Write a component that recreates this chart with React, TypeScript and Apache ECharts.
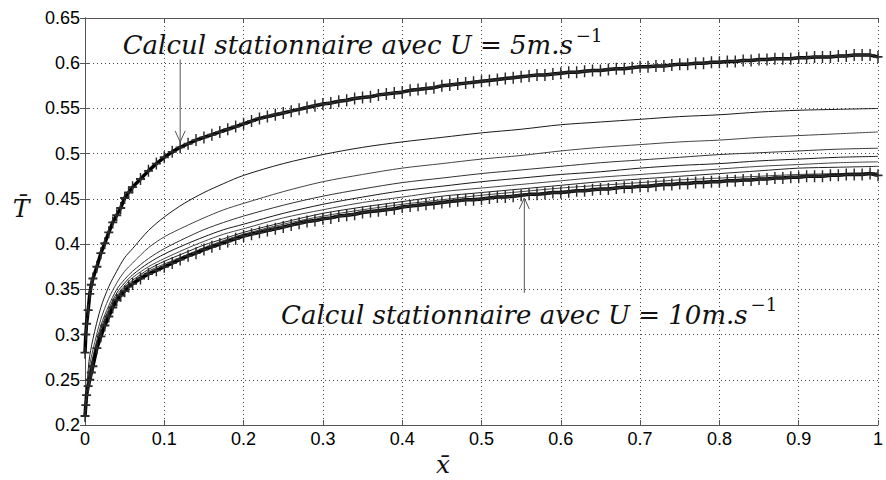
import React, { useEffect, useRef } from "react";
import * as echarts from "echarts";

// x positions of the computed points (mesh refined near the leading edge)
const xsDense = [
  0, 0.001, 0.002, 0.004, 0.006, 0.008, 0.01, 0.015, 0.02, 0.025, 0.03, 0.035, 0.04, 0.045, 0.05, 0.055, 0.06, 0.07, 0.08, 0.09,
  0.1, 0.11, 0.12, 0.13, 0.14, 0.15, 0.16, 0.17, 0.18, 0.19,
  0.2, 0.21, 0.22, 0.23, 0.24, 0.25, 0.26, 0.27, 0.28, 0.29,
  0.3, 0.31, 0.32, 0.33, 0.34, 0.35, 0.36, 0.37, 0.38, 0.39,
  0.4, 0.41, 0.42, 0.43, 0.44, 0.45, 0.46, 0.47, 0.48, 0.49,
  0.5, 0.51, 0.52, 0.53, 0.54, 0.55, 0.56, 0.57, 0.58, 0.59,
  0.6, 0.61, 0.62, 0.63, 0.64, 0.65, 0.66, 0.67, 0.68, 0.69,
  0.7, 0.71, 0.72, 0.73, 0.74, 0.75, 0.76, 0.77, 0.78, 0.79,
  0.8, 0.81, 0.82, 0.83, 0.84, 0.85, 0.86, 0.87, 0.88, 0.89,
  0.9, 0.91, 0.92, 0.93, 0.94, 0.95, 0.96, 0.97, 0.98, 0.99, 1.0,
];

// Steady computation, U = 5 m/s (upper curve with + markers)
const steadyU5 = [
  0.28, 0.3, 0.312, 0.327, 0.345, 0.355, 0.362, 0.375, 0.39, 0.401, 0.413, 0.424, 0.432, 0.44, 0.451, 0.457, 0.463, 0.472, 0.481, 0.489,
  0.496, 0.502, 0.507, 0.511, 0.515, 0.518, 0.521, 0.524, 0.527, 0.53,
  0.533, 0.536, 0.539, 0.541, 0.543, 0.545, 0.547, 0.549, 0.551, 0.553,
  0.555, 0.556, 0.558, 0.559, 0.561, 0.562, 0.563, 0.565, 0.566, 0.567,
  0.568, 0.57, 0.571, 0.572, 0.573, 0.575, 0.576, 0.577, 0.578, 0.579,
  0.58, 0.581, 0.582, 0.583, 0.584, 0.585, 0.586, 0.587, 0.587, 0.588,
  0.589, 0.59, 0.59, 0.591, 0.592, 0.592, 0.593, 0.594, 0.594, 0.595,
  0.596, 0.596, 0.597, 0.597, 0.598, 0.599, 0.599, 0.6, 0.6, 0.601,
  0.601, 0.602, 0.602, 0.603, 0.603, 0.604, 0.604, 0.605, 0.605, 0.605,
  0.606, 0.606, 0.607, 0.607, 0.607, 0.608, 0.608, 0.609, 0.609, 0.609, 0.607,
];

// Steady computation, U = 10 m/s (lower curve with + markers)
const steadyU10 = [
  0.21, 0.222, 0.233, 0.243, 0.25, 0.258, 0.265, 0.285, 0.298, 0.31, 0.32, 0.33, 0.338, 0.343, 0.348, 0.353, 0.356, 0.362, 0.367, 0.371,
  0.375, 0.379, 0.383, 0.387, 0.39, 0.394, 0.397, 0.4, 0.403, 0.406,
  0.409, 0.411, 0.413, 0.415, 0.417, 0.419, 0.421, 0.423, 0.425, 0.426,
  0.428, 0.429, 0.431, 0.432, 0.433, 0.435, 0.436, 0.437, 0.438, 0.439,
  0.441, 0.442, 0.443, 0.444, 0.445, 0.446, 0.447, 0.448, 0.449, 0.449,
  0.45, 0.451, 0.452, 0.452, 0.453, 0.454, 0.455, 0.455, 0.456, 0.457,
  0.457, 0.458, 0.459, 0.459, 0.46, 0.461, 0.461, 0.462, 0.463, 0.463,
  0.464, 0.464, 0.465, 0.466, 0.466, 0.467, 0.467, 0.468, 0.468, 0.469,
  0.469, 0.47, 0.47, 0.471, 0.471, 0.472, 0.472, 0.473, 0.473, 0.474,
  0.474, 0.475, 0.475, 0.475, 0.476, 0.476, 0.477, 0.477, 0.477, 0.478, 0.476,
];

// x positions of the transient profiles
const xsThin = [0, 0.005, 0.01, 0.02, 0.03, 0.04, 0.05, 0.06, 0.08, 0.1, 0.125, 0.15, 0.175, 0.2, 0.25, 0.3, 0.35, 0.4, 0.45, 0.5, 0.55, 0.6, 0.65, 0.7, 0.75, 0.8, 0.85, 0.9, 0.95, 1.0];

const profile1 = [0.21, 0.27, 0.295, 0.33, 0.353, 0.37, 0.385, 0.395, 0.415, 0.43, 0.445, 0.457, 0.467, 0.476, 0.489, 0.499, 0.507, 0.513, 0.518, 0.523, 0.527, 0.532, 0.535, 0.538, 0.541, 0.543, 0.546, 0.548, 0.549, 0.55];
const profile2 = [0.21, 0.261, 0.283, 0.317, 0.34, 0.357, 0.37, 0.379, 0.396, 0.408, 0.419, 0.429, 0.438, 0.445, 0.458, 0.469, 0.477, 0.484, 0.489, 0.494, 0.498, 0.503, 0.507, 0.51, 0.513, 0.515, 0.518, 0.52, 0.522, 0.524];
const profile3 = [0.21, 0.255, 0.276, 0.31, 0.332, 0.35, 0.361, 0.37, 0.384, 0.395, 0.406, 0.416, 0.424, 0.431, 0.443, 0.453, 0.461, 0.468, 0.473, 0.478, 0.482, 0.486, 0.49, 0.493, 0.496, 0.499, 0.501, 0.503, 0.505, 0.506];
const profile4 = [0.21, 0.253, 0.273, 0.306, 0.328, 0.346, 0.357, 0.366, 0.379, 0.389, 0.399, 0.408, 0.416, 0.422, 0.434, 0.444, 0.452, 0.459, 0.464, 0.469, 0.473, 0.477, 0.48, 0.484, 0.487, 0.489, 0.492, 0.494, 0.496, 0.497];
const profile5 = [0.21, 0.251, 0.27, 0.303, 0.326, 0.343, 0.354, 0.363, 0.375, 0.384, 0.394, 0.403, 0.411, 0.417, 0.429, 0.438, 0.446, 0.452, 0.458, 0.462, 0.466, 0.47, 0.474, 0.477, 0.48, 0.483, 0.486, 0.488, 0.49, 0.491];
const profile6 = [0.21, 0.249, 0.268, 0.301, 0.323, 0.341, 0.352, 0.36, 0.372, 0.381, 0.39, 0.399, 0.406, 0.413, 0.424, 0.434, 0.441, 0.447, 0.453, 0.457, 0.461, 0.465, 0.469, 0.472, 0.475, 0.478, 0.481, 0.484, 0.485, 0.486];
const profile7 = [0.21, 0.248, 0.267, 0.3, 0.322, 0.34, 0.35, 0.358, 0.37, 0.378, 0.387, 0.396, 0.404, 0.411, 0.422, 0.431, 0.438, 0.444, 0.449, 0.454, 0.458, 0.462, 0.465, 0.468, 0.471, 0.473, 0.475, 0.477, 0.478, 0.479];

const profiles = [profile1, profile2, profile3, profile4, profile5, profile6, profile7];
const profileColors = ["#1a1a1a", "#444444", "#333333", "#1a1a1a", "#444444", "#222222", "#444444"];

const X_MIN = 0, X_MAX = 1, X_STEP = 0.1;
const Y_MIN = 0.2, Y_MAX = 0.65, Y_STEP = 0.05;

const label5 = { main: "Calcul stationnaire avec U = 5m.s", sup: "−1" };
const label10 = { main: "Calcul stationnaire avec U = 10m.s", sup: "−1" };
// annotation anchors in data coordinates
const label5At = [0.35, 0.623];
const label10At = [0.56, 0.325];
const arrow5 = { from: [0.12, 0.604], to: [0.12, 0.513] };
const arrow10 = { from: [0.554, 0.346], to: [0.554, 0.451] };

const fmt = (v: number) => String(+v.toFixed(2));
const zip = (xs: number[], ys: number[]) => xs.map((x, i) => [x, ys[i]]);

const PLUS = "path://M4.2,0H5.8V4.2H10V5.8H5.8V10H4.2V5.8H0V4.2H4.2Z";

export default function App() {
  const ref = useRef<HTMLDivElement>(null);
  useEffect(() => {
    if (!ref.current) return;
    const chart = echarts.init(ref.current, undefined, { renderer: "svg" });
    const axisColor = "#555";
    const tickFont = { fontFamily: "Liberation Sans, Arial, sans-serif", fontSize: 18, color: "#000" };
    const series: any[] = profiles.map((p, i) => ({
      type: "line",
      data: zip(xsThin, p),
      smooth: 0.3,
      showSymbol: false,
      symbol: "none",
      lineStyle: { color: profileColors[i], width: 1 },
      z: 2,
    }));
    [steadyU5, steadyU10].forEach((s) => {
      series.push({
        type: "line",
        data: zip(xsDense, s),
        symbol: PLUS,
        symbolSize: [9, 12],
        showAllSymbol: true,
        itemStyle: { color: "#2a2a2a" },
        lineStyle: { color: "#000", width: 3.5 },
        z: 3,
      });
    });
    chart.setOption({
      animation: false,
      backgroundColor: "#fff",
      grid: { left: 85, right: 2, top: 18, bottom: 55, containLabel: false },
      xAxis: [
        {
          type: "value", min: X_MIN, max: X_MAX, interval: X_STEP,
          axisLine: { lineStyle: { color: axisColor, width: 1 } },
          axisTick: { inside: true, length: 5, lineStyle: { color: axisColor } },
          axisLabel: { ...tickFont, margin: 5, formatter: fmt, showMaxLabel: true, showMinLabel: true },
          splitLine: { show: true, lineStyle: { color: "#444", type: [1, 3], width: 1 } },
        },
        {
          type: "value", position: "top", min: X_MIN, max: X_MAX, interval: X_STEP,
          axisLine: { show: true, lineStyle: { color: axisColor, width: 1 } },
          axisTick: { show: true, inside: true, length: 5, lineStyle: { color: axisColor } },
          axisLabel: { show: false }, splitLine: { show: false },
        },
      ],
      yAxis: [
        {
          type: "value", min: Y_MIN, max: Y_MAX, interval: Y_STEP,
          axisLine: { show: true, lineStyle: { color: axisColor, width: 1 } },
          axisTick: { show: true, inside: true, length: 5, lineStyle: { color: axisColor } },
          axisLabel: { ...tickFont, margin: 5, formatter: fmt, showMaxLabel: true, showMinLabel: true },
          splitLine: { show: true, lineStyle: { color: "#444", type: [1, 3], width: 1 } },
        },
        {
          type: "value", position: "right", min: Y_MIN, max: Y_MAX, interval: Y_STEP,
          axisLine: { show: true, lineStyle: { color: axisColor, width: 1 } },
          axisTick: { show: true, inside: true, length: 5, lineStyle: { color: axisColor } },
          axisLabel: { show: false }, splitLine: { show: false },
        },
      ],
      series,
    });

    const px = (p: number[]) => chart.convertToPixel({ xAxisIndex: 0, yAxisIndex: 0 }, p) as number[];
    const serif = "DejaVu Serif, serif";
    const rich = {
      m: { fontFamily: serif, fontStyle: "italic", fontSize: 26, fill: "#111", lineHeight: 32, verticalAlign: "bottom" },
      s: { fontFamily: serif, fontStyle: "normal", fontSize: 18, fill: "#111", lineHeight: 32, verticalAlign: "top", padding: [0, 0, 0, 3] },
    };
    const arrow = (a: { from: number[]; to: number[] }) => {
      const f = px(a.from), t = px(a.to);
      const dir = t[1] > f[1] ? -1 : 1;
      return [
        { type: "line", shape: { x1: f[0], y1: f[1], x2: t[0], y2: t[1] }, style: { stroke: "#555", lineWidth: 1 }, z: 10 },
        {
          type: "polyline",
          shape: { points: [[t[0] - 5, t[1] + dir * 11], [t[0], t[1]], [t[0] + 5, t[1] + dir * 11]] },
          style: { stroke: "#555", lineWidth: 1, fill: null }, z: 10,
        },
      ];
    };
    const textEl = (lab: { main: string; sup: string }, at: number[]) => {
      const p = px(at);
      return {
        type: "text", x: p[0], y: p[1], z: 11,
        style: { text: `{m|${lab.main}}{s|${lab.sup}}`, rich, align: "center", verticalAlign: "middle" },
      };
    };
    chart.setOption({
      graphic: [
        ...arrow(arrow5),
        ...arrow(arrow10),
        textEl(label5, label5At),
        textEl(label10, label10At),
        { type: "text", x: 21, y: 208, style: { text: "T\u0304", fontFamily: serif, fontStyle: "italic", fontSize: 25, fill: "#111", align: "center", verticalAlign: "middle" } },
        { type: "text", x: 443, y: 464, style: { text: "x\u0304", fontFamily: serif, fontStyle: "italic", fontSize: 25, fill: "#111", align: "center", verticalAlign: "middle" } },
      ],
    });
    return () => chart.dispose();
  }, []);
  return <div ref={ref} style={{ position: "absolute", left: 0, top: 0, width: 886, height: 480 }} />;
}
